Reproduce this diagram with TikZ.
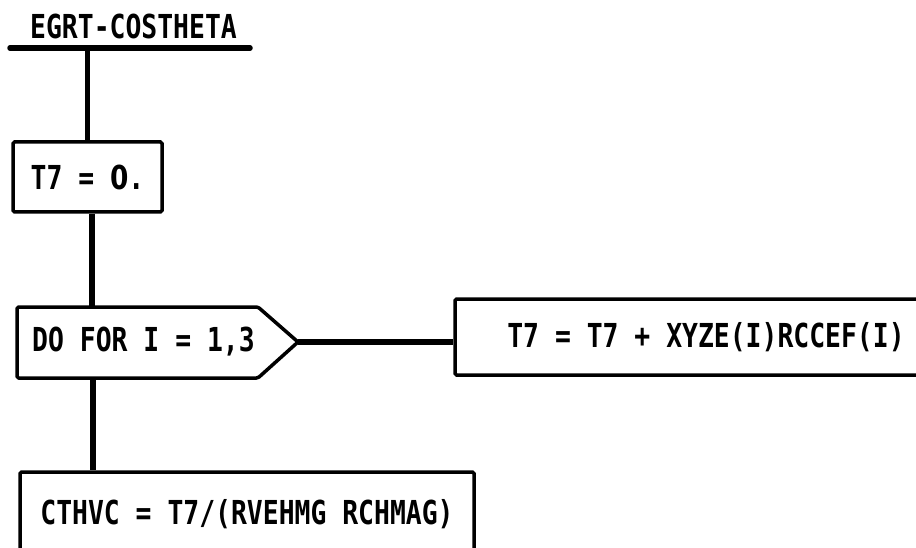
\documentclass[tikz,border=0pt]{standalone}
\usepackage{fontspec}
\newfontfamily\dgfont[FakeStretch=0.8]{DejaVu Sans Mono}
\newfontfamily\dgzero[FakeStretch=0.8]{DejaVu Sans}
\newcommand\zerodigit{{\dgzero\bfseries 0}}
\begin{document}
\begin{tikzpicture}[x=1pt,y=-1pt,
  lbl/.style={inner sep=0pt, font=\dgfont\bfseries\fontsize{33}{36}\selectfont},
  box/.style={lbl, draw, line width=3.5pt, rounded corners=1.5pt},
  boxline/.style={line width=3.5pt, rounded corners=1.5pt, line join=round},
  conn/.style={line width=5.5pt}]
\useasboundingbox (0,0) rectangle (916,548);
\clip (0,0) rectangle (916,548);
% title
\node[lbl] (title) at (133.5,26) {EGRT-COSTHETA};
\coordinate (ulL) at (10,48);
\coordinate (ulR) at (250,48);
\draw[conn, line cap=round] (ulL) -- (ulR);
% boxes
\node[box, minimum width=149pt, minimum height=70pt] (t7) at (87.5,177) {T7 = \zerodigit.};
\node[lbl] (do) at (143.5,342) {DO FOR I = 1,3};
\coordinate (dotop) at (92,307);
\coordinate (dobot) at (93,378);
\coordinate (dotip) at (298,342);
\draw[boxline] (17,307) -- (258,307) -- (dotip) -- (258,378) -- (17,378) -- cycle;
\node[box, minimum width=502pt, minimum height=76pt] (sum) at (706,337) {T7 = T7 + XYZE(I)RCCEF(I)};
\node[box, minimum width=454pt, minimum height=84pt] (cth) at (247,514) {CTHVC = T7/(RVEHMG RCHMAG)};
% connectors
\draw[conn] (t7.north |- ulL) -- (t7.north);
\draw[conn] (t7.south -| dotop) -- (dotop);
\draw[conn] (dobot) -- (dobot |- cth.north);
\draw[conn] (dotip) -- (dotip -| sum.west);
\end{tikzpicture}
\end{document}
